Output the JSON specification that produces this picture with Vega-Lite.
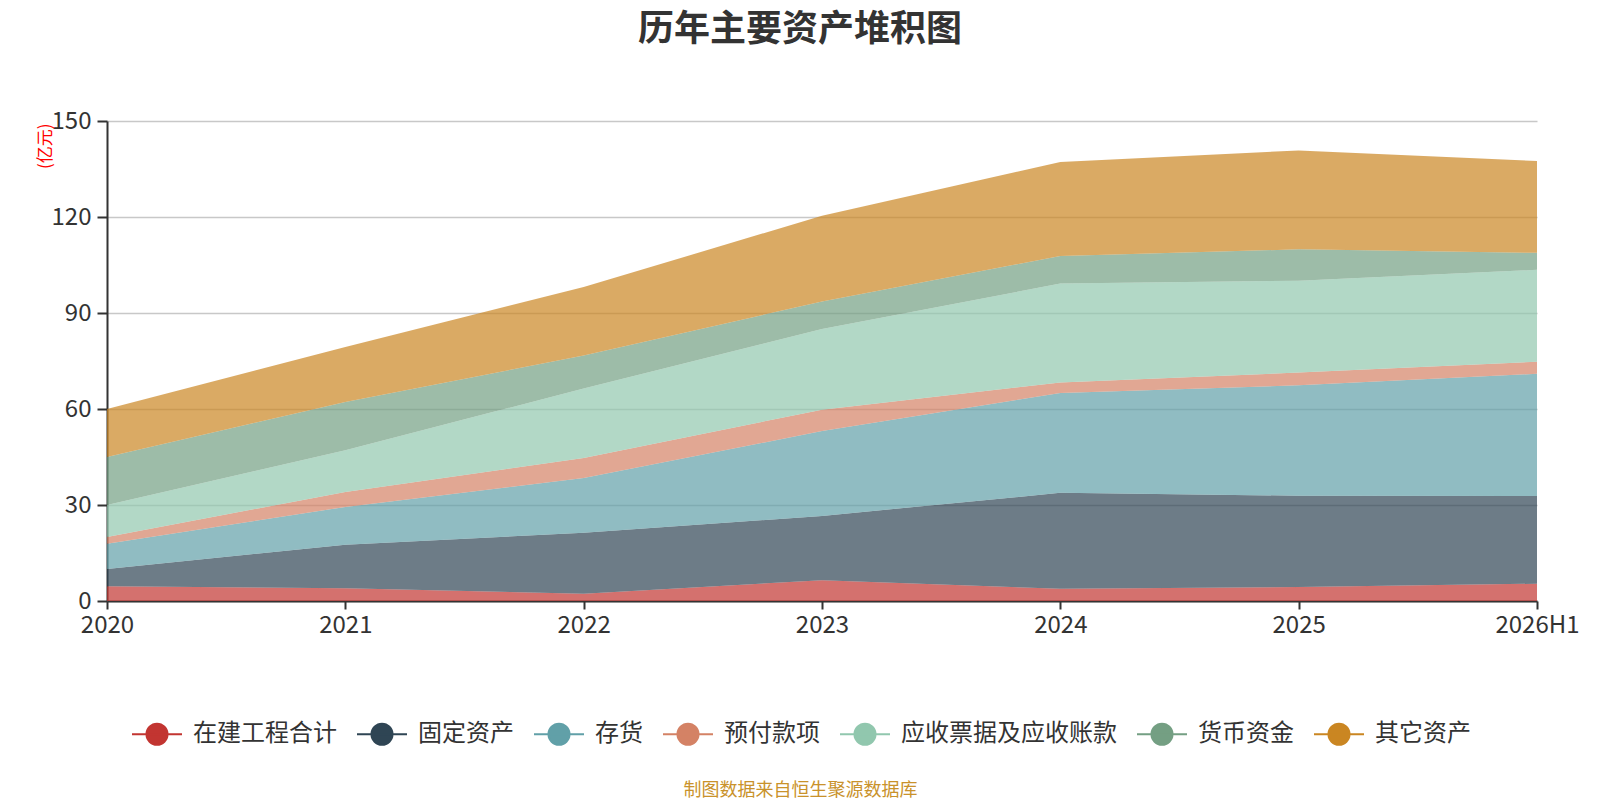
{
  "$schema": "https://vega.github.io/schema/vega-lite/v6.json",
  "width": 1430,
  "height": 480,
  "autosize": {"type": "none"},
  "padding": {"left": 107, "top": 121, "right": 63, "bottom": 199},
  "background": "white",
  "config": {
    "font": "Noto Sans CJK SC",
    "view": {"stroke": null}
  },
  "title": {
    "text": "历年主要资产堆积图",
    "fontSize": 36,
    "fontWeight": "bold",
    "color": "#333333",
    "font": "Noto Sans CJK SC",
    "anchor": "middle",
    "frame": "group",
    "dx": -22,
    "offset": 60
  },
  "datasets": {
    "series": [
      {"类别": "在建工程合计", "序号": 1},
      {"类别": "固定资产", "序号": 2},
      {"类别": "存货", "序号": 3},
      {"类别": "预付款项", "序号": 4},
      {"类别": "应收票据及应收账款", "序号": 5},
      {"类别": "货币资金", "序号": 6},
      {"类别": "其它资产", "序号": 7}
    ]
  },
  "data": {
    "values": [
      {"年份": "2020", "类别": "在建工程合计", "金额": 4.6},
      {"年份": "2020", "类别": "固定资产", "金额": 5.4},
      {"年份": "2020", "类别": "存货", "金额": 7.9},
      {"年份": "2020", "类别": "预付款项", "金额": 2.1},
      {"年份": "2020", "类别": "应收票据及应收账款", "金额": 10.0},
      {"年份": "2020", "类别": "货币资金", "金额": 15.0},
      {"年份": "2020", "类别": "其它资产", "金额": 15.0},
      {"年份": "2021", "类别": "在建工程合计", "金额": 4.0},
      {"年份": "2021", "类别": "固定资产", "金额": 13.6},
      {"年份": "2021", "类别": "存货", "金额": 11.8},
      {"年份": "2021", "类别": "预付款项", "金额": 4.7},
      {"年份": "2021", "类别": "应收票据及应收账款", "金额": 13.0},
      {"年份": "2021", "类别": "货币资金", "金额": 15.1},
      {"年份": "2021", "类别": "其它资产", "金额": 17.2},
      {"年份": "2022", "类别": "在建工程合计", "金额": 2.3},
      {"年份": "2022", "类别": "固定资产", "金额": 19.0},
      {"年份": "2022", "类别": "存货", "金额": 17.1},
      {"年份": "2022", "类别": "预付款项", "金额": 6.3},
      {"年份": "2022", "类别": "应收票据及应收账款", "金额": 21.7},
      {"年份": "2022", "类别": "货币资金", "金额": 10.3},
      {"年份": "2022", "类别": "其它资产", "金额": 21.4},
      {"年份": "2023", "类别": "在建工程合计", "金额": 6.5},
      {"年份": "2023", "类别": "固定资产", "金额": 20.1},
      {"年份": "2023", "类别": "存货", "金额": 26.5},
      {"年份": "2023", "类别": "预付款项", "金额": 6.7},
      {"年份": "2023", "类别": "应收票据及应收账款", "金额": 25.2},
      {"年份": "2023", "类别": "货币资金", "金额": 8.6},
      {"年份": "2023", "类别": "其它资产", "金额": 26.8},
      {"年份": "2024", "类别": "在建工程合计", "金额": 3.8},
      {"年份": "2024", "类别": "固定资产", "金额": 30.0},
      {"年份": "2024", "类别": "存货", "金额": 31.2},
      {"年份": "2024", "类别": "预付款项", "金额": 3.3},
      {"年份": "2024", "类别": "应收票据及应收账款", "金额": 30.9},
      {"年份": "2024", "类别": "货币资金", "金额": 8.6},
      {"年份": "2024", "类别": "其它资产", "金额": 29.4},
      {"年份": "2025", "类别": "在建工程合计", "金额": 4.4},
      {"年份": "2025", "类别": "固定资产", "金额": 28.5},
      {"年份": "2025", "类别": "存货", "金额": 34.5},
      {"年份": "2025", "类别": "预付款项", "金额": 4.0},
      {"年份": "2025", "类别": "应收票据及应收账款", "金额": 28.7},
      {"年份": "2025", "类别": "货币资金", "金额": 9.8},
      {"年份": "2025", "类别": "其它资产", "金额": 30.9},
      {"年份": "2026H1", "类别": "在建工程合计", "金额": 5.4},
      {"年份": "2026H1", "类别": "固定资产", "金额": 27.4},
      {"年份": "2026H1", "类别": "存货", "金额": 38.2},
      {"年份": "2026H1", "类别": "预付款项", "金额": 3.8},
      {"年份": "2026H1", "类别": "应收票据及应收账款", "金额": 28.7},
      {"年份": "2026H1", "类别": "货币资金", "金额": 5.3},
      {"年份": "2026H1", "类别": "其它资产", "金额": 28.7}
    ]
  },
  "transform": [
    {"lookup": "类别", "from": {"data": {"name": "series"}, "key": "类别", "fields": ["序号"]}}
  ],
  "mark": {"type": "area", "opacity": 0.7, "interpolate": "linear"},
  "encoding": {
    "x": {
      "field": "年份",
      "type": "ordinal",
      "scale": {"type": "point", "padding": 0},
      "axis": {
        "labelAngle": 0,
        "labelFontSize": 24,
        "labelColor": "#333333",
        "labelPadding": 4,
        "labelOverlap": false,
        "labelBound": false,
        "labelFlush": false,
        "tickSize": 8,
        "tickWidth": 2,
        "tickColor": "#333333",
        "domainColor": "#333333",
        "domainWidth": 2,
        "grid": false,
        "title": "制图数据来自恒生聚源数据库",
        "titleFontSize": 18,
        "titleFontWeight": "normal",
        "titleColor": "#c9922b",
        "titleX": 693,
        "titleY": 189,
        "titleAlign": "center",
        "titleBaseline": "middle",
        "titleAngle": 0
      }
    },
    "y": {
      "field": "金额",
      "type": "quantitative",
      "stack": "zero",
      "scale": {"domain": [0, 150], "nice": false},
      "axis": {
        "values": [0, 30, 60, 90, 120, 150],
        "labelFontSize": 24,
        "labelColor": "#333333",
        "labelPadding": 6,
        "tickSize": 10,
        "tickWidth": 2,
        "tickColor": "#333333",
        "domainColor": "#333333",
        "domainWidth": 2,
        "grid": true,
        "gridColor": "#c8c8c8",
        "gridWidth": 1.5,
        "title": "(亿元)",
        "titleFontSize": 17,
        "titleFontWeight": "normal",
        "titleColor": "#ff0000",
        "titleAngle": -90,
        "titleX": -62,
        "titleY": 2,
        "titleAlign": "right",
        "titleBaseline": "middle"
      }
    },
    "color": {
      "field": "类别",
      "type": "nominal",
      "scale": {
        "domain": ["在建工程合计", "固定资产", "存货", "预付款项", "应收票据及应收账款", "货币资金", "其它资产"],
        "range": ["#c23531", "#2f4554", "#61a0a8", "#d48265", "#91c7ae", "#749f83", "#ca8622"]
      },
      "legend": {
        "orient": "none",
        "legendX": 24,
        "legendY": 587,
        "direction": "horizontal",
        "title": null,
        "symbolType": "M-1,0L1,0M0.42,0A0.42,0.42 0 1,1 -0.42,0A0.42,0.42 0 1,1 0.42,0Z",
        "symbolSize": 2500,
        "symbolStrokeWidth": 2,
        "symbolOpacity": 1,
        "labelFontSize": 24,
        "labelColor": "#333333",
        "labelOffset": 10,
        "columnPadding": 16,
        "labelLimit": 400,
        "encode": {
          "symbols": {
            "update": {
              "stroke": {"scale": "color", "field": "value"},
              "strokeWidth": {"value": 2},
              "opacity": {"value": 1},
              "fillOpacity": {"value": 1},
              "strokeOpacity": {"value": 1}
            }
          }
        }
      }
    },
    "order": {"field": "序号", "type": "quantitative", "sort": "ascending"}
  }
}
